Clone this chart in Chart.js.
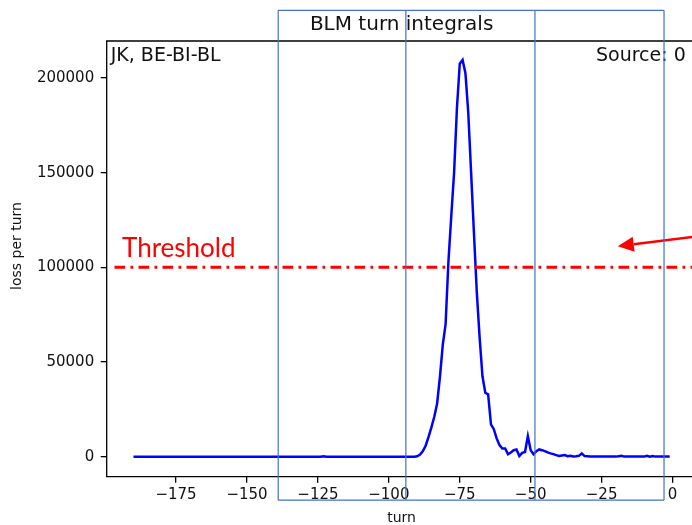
<!DOCTYPE html>
<html>
<head>
<meta charset="utf-8">
<title>BLM turn integrals</title>
<script src="https://cdn.jsdelivr.net/npm/chart.js@4.4.1/dist/chart.umd.min.js"></script>
<style>
    html, body { margin: 0; padding: 0; background: #fff; overflow: hidden; }
    canvas { display: block; }
</style>
</head>
<body>
<canvas id="chart-blm" width="692" height="525"></canvas>
<script>

/* data: one value per turn, from firstTurn up to -1 */
var firstTurn = -190;
var lossPerTurn = [
    0, 0, 0, 0, 0, 0, 0, 0, 0, 0,                 // -190 .. -181
    0, 0, 0, 0, 0, 0, 0, 0, 0, 0,                 // -180 .. -171
    0, 0, 0, 0, 0, 0, 0, 0, 0, 0,                 // -170 .. -161
    0, 0, 0, 0, 0, 0, 0, 0, 0, 0,                 // -160 .. -151
    0, 0, 0, 0, 0, 0, 0, 0, 0, 0,                 // -150 .. -141
    0, 0, 0, 0, 0, 0, 0, 0, 0, 0,                 // -140 .. -131
    0, 0, 0, 0, 0, 0, 0, 300, 0, 0,               // -130 .. -121
    0, 0, 0, 0, 0, 0, 0, 0, 0, 0,                 // -120 .. -111
    0, 0, 0, 0, 0, 0, 0, 0, 0, 0,                 // -110 .. -101
    0, 0, 0, 0, 0, 0, 0, 0, 0, 0,                 // -100 .. -91
    300, 1200, 3000, 6000, 10500, 15500, 21000, 28000, 42000, 59000,            // -90 .. -81
    70000, 103000, 127000, 150000, 184000, 207500, 209500, 202500, 181500, 150000, // -80 .. -71
    118000, 87000, 63000, 42500, 33800, 33000, 17100, 14600, 9700, 6200,        // -70 .. -61
    4400, 4400, 1400, 2300, 3500, 3900, 400, 2100, 2500, 10900,                 // -60 .. -51
    3500, 1400, 3000, 3900, 3500, 3000, 2300, 1800, 1400, 900,                  // -50 .. -41
    400, 700, 900, 300, 600, 200, 300, 500, 1800, 400,                          // -40 .. -31
    300, 200, 100, 200, 100, 100, 200, 100, 100, 100,                           // -30 .. -21
    100, 300, 500, 100, 100, 100, 100, 100, 100, 100,                           // -20 .. -11
    100, 500, 100, 400, 100, 100, 100, 100, 100, 200                            // -10 .. -1
];
var xTickValues = [-175, -150, -125, -100, -75, -50, -25, 0];
var yTickValues = [0, 50000, 100000, 150000, 200000];
var threshold = 100000;

/* axis limits and annotation anchors, in data units */
var turnMin = -199.45, turnMax = 6.86;
var lossMin = -10500, lossMax = 219500;
var thresholdStart = -196.7;
var windowEdges = [-139, -94, -48.5, -3];
var windowTop = 235700, windowBottom = -22900;
var arrowTail = [10, 116600], arrowTip = [-19.3, 111200];


var points = [];
for (var i = 0; i < lossPerTurn.length; i++) {
    points.push({ x: firstTurn + i, y: lossPerTurn[i] });
}

function fmt_tick(v) {
    return v < 0 ? '\u2212' + Math.abs(v) : String(v);
}

var overlay = {
    id: 'overlay',
    afterDraw: function(chart) {
        var ctx = chart.ctx;
        var sx = chart.scales.x, sy = chart.scales.y, area = chart.chartArea;
        var rightEdge = sx.getPixelForValue(turnMax);
        ctx.save();

        /* axes frame, right side is cut off */
        ctx.strokeStyle = '#000';
        ctx.lineWidth = 1.3;
        ctx.beginPath();
        ctx.moveTo(rightEdge + 10, area.top);
        ctx.lineTo(area.left, area.top);
        ctx.lineTo(area.left, area.bottom);
        ctx.lineTo(rightEdge + 10, area.bottom);
        ctx.stroke();

        /* texts */
        ctx.fillStyle = '#111';
        ctx.textBaseline = 'alphabetic';
        ctx.font = '20px "DejaVu Sans"';
        ctx.textAlign = 'center';
        ctx.fillText('BLM turn integrals', (area.left + 696.5) / 2, 30);
        ctx.font = '19px "DejaVu Sans"';
        ctx.textAlign = 'left';
        ctx.fillText('JK, BE-BI-BL', area.left + 4, 61);
        ctx.fillText('Source: 0', 596, 61);

        ctx.font = '14px "DejaVu Sans"';
        ctx.textAlign = 'center';
        ctx.fillText('turn', (area.left + 696.5) / 2, 522);
        ctx.save();
        ctx.translate(21, 246);
        ctx.rotate(-Math.PI / 2);
        ctx.fillText('loss per turn', 0, 0);
        ctx.restore();

        /* threshold label */
        ctx.fillStyle = '#ff0000';
        ctx.font = '26px Lato';
        ctx.textAlign = 'left';
        ctx.fillText('Threshold', 122, 257);

        /* arrow */
        var tx = sx.getPixelForValue(arrowTail[0]), ty = sy.getPixelForValue(arrowTail[1]);
        var hx = sx.getPixelForValue(arrowTip[0]), hy = sy.getPixelForValue(arrowTip[1]);
        var ang = Math.atan2(hy - ty, hx - tx);
        var headLen = 16, headHalf = 7.5;
        var bx = hx - headLen * Math.cos(ang), by = hy - headLen * Math.sin(ang);
        ctx.strokeStyle = '#ff0000';
        ctx.lineWidth = 2.5;
        ctx.beginPath();
        ctx.moveTo(tx, ty);
        ctx.lineTo(bx, by);
        ctx.stroke();
        ctx.beginPath();
        ctx.moveTo(hx, hy);
        ctx.lineTo(bx + headHalf * Math.sin(ang), by - headHalf * Math.cos(ang));
        ctx.lineTo(bx - headHalf * Math.sin(ang), by + headHalf * Math.cos(ang));
        ctx.closePath();
        ctx.fill();

        /* turn windows */
        var top = sy.getPixelForValue(windowTop), bottom = sy.getPixelForValue(windowBottom);
        ctx.strokeStyle = '#4472c4';
        ctx.lineWidth = 1.2;
        ctx.beginPath();
        var first = sx.getPixelForValue(windowEdges[0]);
        var last = sx.getPixelForValue(windowEdges[windowEdges.length - 1]);
        ctx.moveTo(first, top);
        ctx.lineTo(last, top);
        ctx.moveTo(first, bottom);
        ctx.lineTo(last, bottom);
        windowEdges.forEach(function(e) {
            var px = sx.getPixelForValue(e);
            ctx.moveTo(px, top);
            ctx.lineTo(px, bottom);
        });
        ctx.stroke();

        ctx.restore();
    }
};

Chart.defaults.font.family = '"DejaVu Sans"';

var ctx = document.getElementById('chart-blm');
var myChart = new Chart(ctx, {
    type: 'line',
    data: {
        datasets: [{
            label: 'Threshold',
            data: [{ x: thresholdStart, y: threshold }, { x: turnMax, y: threshold }],
            borderColor: '#ff0000',
            borderWidth: 3,
            borderDash: [10.7, 5.3, 2.7, 5.3],
            pointRadius: 0,
            fill: false
        }, {
            label: 'loss per turn',
            data: points,
            borderColor: '#0000ff',
            borderWidth: 2.5,
            lineTension: 0,
            pointRadius: 0,
            fill: false
        }]
    },
    options: {
        responsive: false,
        animation: false,
        devicePixelRatio: 1,
        layout: { padding: { top: 41, right: 0, left: 0, bottom: 0 } },
        plugins: {
            legend: { display: false },
            tooltip: { enabled: false }
        },
        scales: {
            x: {
                type: 'linear',
                position: 'bottom',
                min: turnMin,
                max: turnMax,
                afterFit: function(s) { s.height = 48.3; },
                afterBuildTicks: function(s) {
                    s.ticks = xTickValues.map(function(v) { return { value: v }; });
                },
                grid: { drawOnChartArea: false, drawTicks: true, tickLength: 6, color: '#000', lineWidth: 1.3 },
                border: { display: false },
                ticks: {
                    color: '#111',
                    font: { size: 15 },
                    padding: 3,
                    maxRotation: 0,
                    autoSkip: false,
                    callback: function(v) { return fmt_tick(v); }
                }
            },
            y: {
                type: 'linear',
                position: 'left',
                min: lossMin,
                max: lossMax,
                afterFit: function(s) { s.width = 106.7; },
                afterBuildTicks: function(s) {
                    s.ticks = yTickValues.map(function(v) { return { value: v }; });
                },
                grid: { drawOnChartArea: false, drawTicks: true, tickLength: 6, color: '#000', lineWidth: 1.3 },
                border: { display: false },
                ticks: {
                    color: '#111',
                    font: { size: 15 },
                    padding: 6.5,
                    autoSkip: false,
                    callback: function(v) { return fmt_tick(v); }
                }
            }
        }
    },
    plugins: [overlay]
});

</script>
</body>
</html>
